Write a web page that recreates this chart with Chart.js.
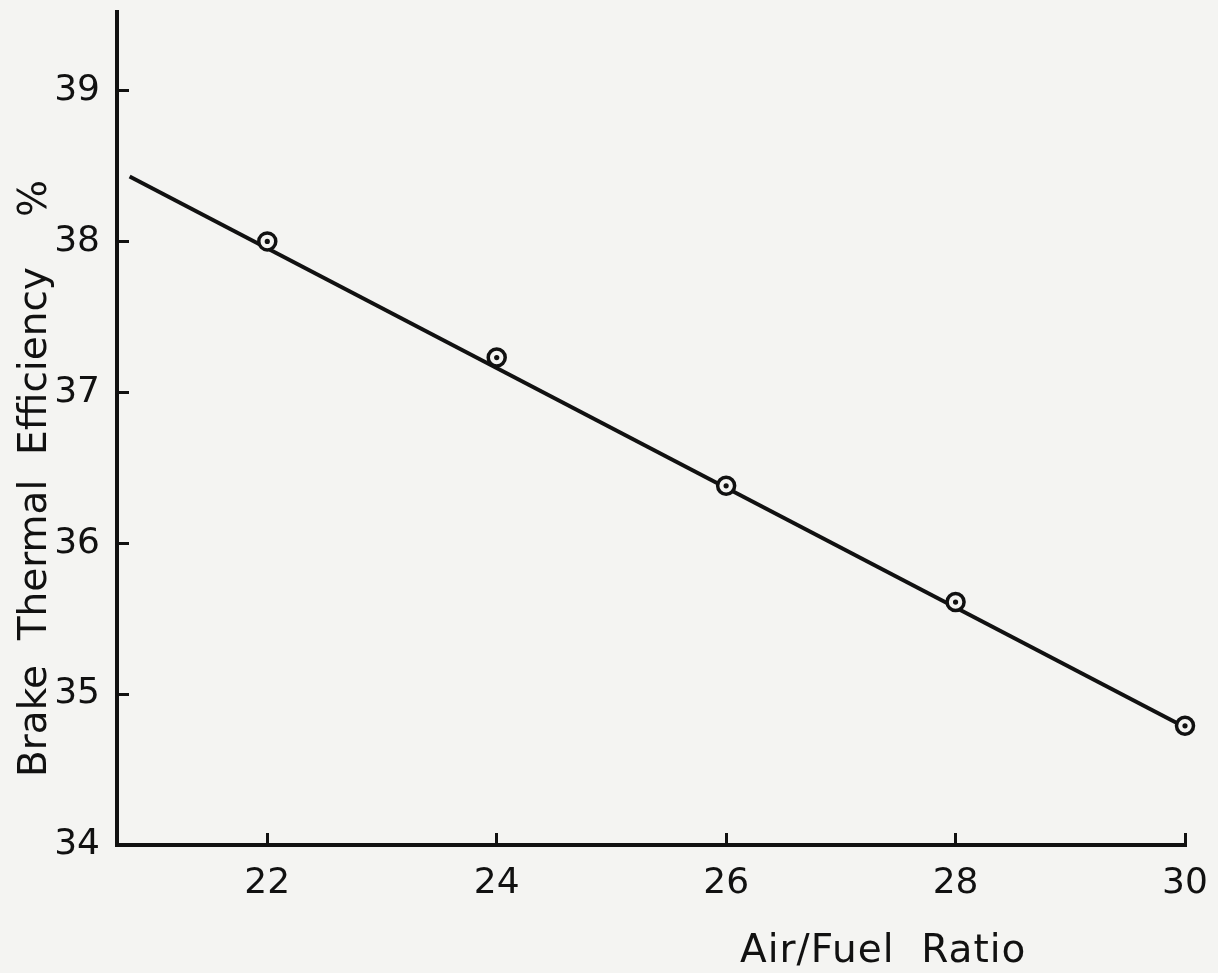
<!DOCTYPE html>
<html>
<head>
<meta charset="utf-8">
<script src="https://cdn.jsdelivr.net/npm/chart.js@4"></script>
<style>
  html,body{margin:0;padding:0;background:#f4f4f2;}
  #wrap{width:1218px;height:973px;}
</style>
</head>
<body>
<div id="wrap"><canvas id="c" width="1218" height="973"></canvas></div>
<script>
// values
const afr = [22, 24, 26, 28, 30];
const bte = [38.0, 37.23, 36.38, 35.61, 34.79];
// straight fitted line, its two ends
const fitX = [20.8, 30];
const fitY = [38.43, 34.78];
const xTicks = [22, 24, 26, 28, 30];
const yTicks = [34, 35, 36, 37, 38, 39];

const paper = '#f4f4f2', ink = '#111';
const font = "'DejaVu Sans', sans-serif";

const pts = afr.map((x,i)=>({x, y:bte[i]}));
const fit = fitX.map((x,i)=>({x, y:fitY[i]}));

const titles = {
  id:'titles',
  beforeDraw(ch){const c=ch.ctx;c.save();c.fillStyle=paper;c.fillRect(0,0,ch.width,ch.height);c.restore();},
  afterDraw(ch){
    const c=ch.ctx;
    c.save();c.fillStyle=ink;c.font='39px '+font;c.textAlign='left';c.textBaseline='alphabetic';
    c.translate(46,777);c.rotate(-Math.PI/2);
    c.fillText('Brake  Thermal  Efficiency',0,0);
    c.fillText('%',560,0);
    c.restore();
    c.save();c.fillStyle=ink;c.font='39px '+font;c.textAlign='left';c.textBaseline='alphabetic';
    c.letterSpacing='1px';
    c.fillText('Air/Fuel  Ratio',740,962);c.restore();
  }
};

new Chart(document.getElementById('c'),{
  type:'scatter',
  data:{datasets:[
    {data:pts,pointRadius:2.6,pointBackgroundColor:ink,pointBorderWidth:0,showLine:false,clip:false},
    {data:pts,pointRadius:8.5,pointBackgroundColor:paper,pointBorderColor:ink,pointBorderWidth:3.5,showLine:false,clip:false},
    {data:fit,showLine:true,borderColor:ink,borderWidth:4,pointRadius:0}
  ]},
  options:{
    responsive:false,animation:false,
    layout:{padding:{top:7,right:33,left:0,bottom:0}},
    plugins:{legend:{display:false},tooltip:{enabled:false}},
    scales:{
      x:{type:'linear',min:20.69,max:30,
        afterBuildTicks:s=>{s.ticks=xTicks.map(v=>({value:v}));},
        afterFit:s=>{s.height=128;s.paddingLeft=0;s.paddingRight=0;},
        border:{color:ink,width:4},
        grid:{drawOnChartArea:false,color:ink,lineWidth:3,tickLength:-12},
        ticks:{color:ink,font:{family:font,size:36},padding:29}},
      y:{type:'linear',min:34,max:39.52,
        afterBuildTicks:s=>{s.ticks=yTicks.map(v=>({value:v}));},
        afterFit:s=>{s.width=117;s.paddingTop=0;s.paddingBottom=0;},
        border:{color:ink,width:4},
        grid:{drawOnChartArea:false,color:ink,lineWidth:3,tickLength:-12},
        ticks:{color:ink,font:{family:font,size:36},padding:29}}
    }
  },
  plugins:[titles]
});
</script>
</body>
</html>
